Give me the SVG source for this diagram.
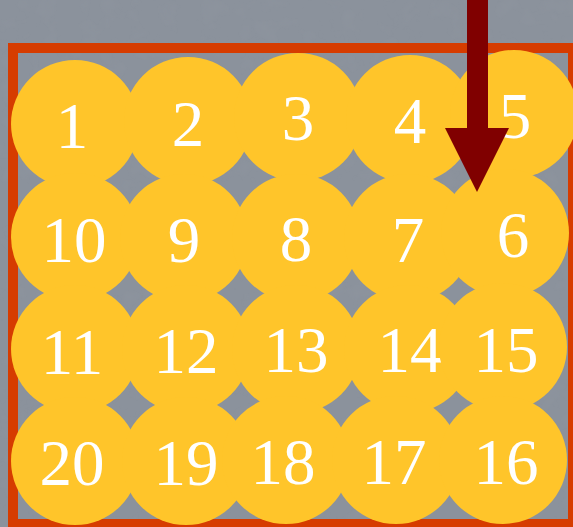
<svg xmlns="http://www.w3.org/2000/svg" width="573" height="527" viewBox="0 0 573 527">
  <defs>
    <filter id="tex" x="0" y="0" width="100%" height="100%">
      <feTurbulence type="fractalNoise" baseFrequency="0.05" numOctaves="3" seed="4" result="n"/>
      <feColorMatrix in="n" type="matrix" values="0 0 0 0 0.35  0 0 0 0 0.37  0 0 0 0 0.4  -0.25 0 0 0 0.12" result="m"/>
      <feComposite in="m" in2="SourceGraphic" operator="in"/>
    </filter>
  </defs>
  <style>
    .bg { fill: #8b929c; }
    .frame { fill: none; stroke: #d63c00; stroke-width: 10; }
    .node circle { fill: #ffc52a; }
    .node text { fill: #ffffff; font-family: "Liberation Serif", "Times New Roman", serif; font-size: 65px; text-anchor: middle; }
    .arrow { fill: #800000; }
  </style>
  <rect class="bg" x="0" y="0" width="573" height="527"/>
  <rect x="0" y="0" width="573" height="527" fill="#8b929c" filter="url(#tex)"/>
  <rect class="frame" x="13" y="48" width="560" height="476"/>

  <g id="node-1" class="node"><circle cx="75" cy="124" r="64"/><text x="72" y="148">1</text></g>
  <g id="node-2" class="node"><circle cx="188" cy="121" r="64"/><text x="188" y="146">2</text></g>
  <g id="node-3" class="node"><circle cx="298" cy="117" r="64"/><text x="298" y="140">3</text></g>
  <g id="node-4" class="node"><circle cx="410" cy="119" r="64"/><text x="410" y="143">4</text></g>
  <g id="node-5" class="node"><circle cx="514" cy="114" r="64"/><text x="515" y="138">5</text></g>

  <g id="node-10" class="node"><circle cx="75" cy="237" r="64"/><text x="74" y="262">10</text></g>
  <g id="node-9" class="node"><circle cx="184" cy="238" r="64"/><text x="184" y="262">9</text></g>
  <g id="node-8" class="node"><circle cx="296" cy="238" r="64"/><text x="296" y="261">8</text></g>
  <g id="node-7" class="node"><circle cx="408" cy="238" r="64"/><text x="408" y="262">7</text></g>
  <g id="node-6" class="node"><circle cx="505" cy="233" r="64"/><text x="513" y="257">6</text></g>

  <g id="node-11" class="node"><circle cx="75" cy="349" r="64"/><text x="72" y="374">11</text></g>
  <g id="node-12" class="node"><circle cx="186" cy="349" r="64"/><text x="186" y="373">12</text></g>
  <g id="node-13" class="node"><circle cx="296" cy="349" r="64"/><text x="296" y="372">13</text></g>
  <g id="node-14" class="node"><circle cx="408" cy="349" r="64"/><text x="410" y="372">14</text></g>
  <g id="node-15" class="node"><circle cx="503" cy="347" r="64"/><text x="506" y="372">15</text></g>

  <g id="node-20" class="node"><circle cx="75" cy="461" r="64"/><text x="72" y="485">20</text></g>
  <g id="node-19" class="node"><circle cx="186" cy="461" r="64"/><text x="186" y="485">19</text></g>
  <g id="node-18" class="node"><circle cx="286" cy="460" r="64"/><text x="283" y="484">18</text></g>
  <g id="node-17" class="node"><circle cx="396" cy="460" r="64"/><text x="394" y="484">17</text></g>
  <g id="node-16" class="node"><circle cx="503" cy="460" r="64"/><text x="506" y="484">16</text></g>

  <g id="connectors">
    <polygon class="arrow" points="467,0 488,0 488,128 509,128 477,192 445,128 467,128"/>
  </g>
</svg>
